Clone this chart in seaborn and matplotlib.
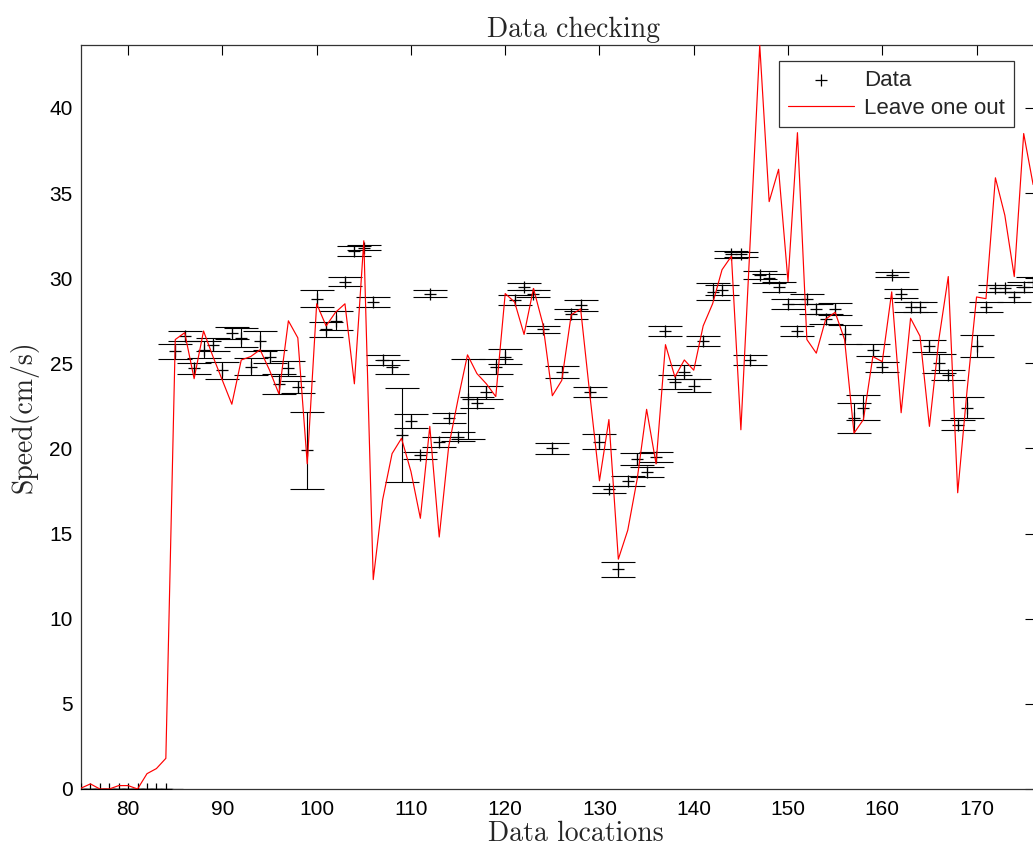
import numpy as np
import matplotlib
matplotlib.use("Agg")
import matplotlib.pyplot as plt
import seaborn as sns

# ---- data ----
data_loc = list(range(75, 177))
data_speed = [0, 0, 0, 0, 0, 0, 0, 0, 0, 0,
              25.7, 26.6, 24.7, 25.8, 26.1, 24.6, 26.8, 26.5, 24.8, 26.3,
              25.4, 23.8, 24.7, 23.6, 19.9, 28.8, 27.0, 27.5, 29.8, 31.6,
              31.8, 28.6, 25.2, 24.8, 20.8, 21.6, 19.6, 29.1, 20.4, 21.8,
              20.7, 22.9, 22.7, 23.3, 24.8, 25.4, 28.7, 29.5, 29.1, 27.0,
              20.0, 24.5, 27.9, 28.4, 23.3, 20.4, 17.6, 12.9, 18.1, 19.4,
              18.6, 19.5, 26.9, 23.9, 24.5, 23.7, 26.3, 29.2, 29.3, 31.4,
              31.4, 25.2, 30.2, 30.0, 29.5, 28.5, 26.9, 28.8, 28.2, 27.6,
              28.2, 26.7, 21.8, 22.4, 25.8, 24.8, 30.2, 29.1, 28.3, 28.3,
              26.0, 25.0, 24.3, 21.4, 22.4, 26.0, 28.3, 29.4, 29.4, 28.9,
              29.5, 29.8]
data_err = [0, 0, 0, 0, 0, 0, 0, 0, 0, 0,
            0.45, 0.3, 0.35, 0.5, 0.4, 0.5, 0.35, 0.55, 0.5, 0.6,
            0.4, 0.6, 0.45, 0.35, 2.25, 0.5, 0.45, 0.55, 0.25, 0.3,
            0.15, 0.3, 0.3, 0.4, 2.75, 0.4, 0.2, 0.2, 0.3, 0.3,
            0.25, 2.35, 0.3, 0.4, 0.45, 0.45, 0.3, 0.2, 0.2, 0.2,
            0.3, 0.35, 0.3, 0.3, 0.3, 0.45, 0.2, 0.45, 0.3, 0.35,
            0.3, 0.3, 0.3, 0.4, 0.4, 0.4, 0.3, 0.5, 0.3, 0.2,
            0.15, 0.3, 0.25, 0.25, 0.3, 0.3, 0.3, 0.3, 0.3, 0.3,
            0.35, 0.55, 0.9, 0.75, 0.35, 0.3, 0.15, 0.25, 0.3, 0.3,
            0.35, 0.55, 0.3, 0.3, 0.6, 0.65, 0.3, 0.2, 0.2, 0.3,
            0.3, 0.3]

loo_loc = list(range(75, 177))
loo_speed = [0.05, 0.3, 0.0, 0.0, 0.2, 0.2, 0.0, 0.9, 1.2, 1.8,
             26.4, 26.8, 24.1, 26.9, 25.4, 24.0, 22.6, 25.2, 25.4, 25.8,
             24.6, 23.2, 27.5, 26.5, 19.1, 28.5, 27.2, 28.0, 28.5, 23.8,
             32.2, 12.3, 17.0, 19.7, 20.6, 18.65, 15.9, 21.3, 14.8, 20.1,
             22.9, 25.5, 24.4, 23.8, 23.05, 29.1, 28.6, 26.7, 29.4, 27.3,
             23.1, 24.0, 27.85, 28.2, 23.05, 18.1, 21.7, 13.5, 15.2, 18.2,
             22.3, 19.1, 26.1, 24.2, 25.2, 24.6, 27.2, 28.5, 30.5, 31.3,
             21.1, 32.3, 43.7, 34.5, 36.4, 29.8, 38.55, 26.4, 25.6, 27.6,
             28.0, 26.4, 20.9, 21.7, 25.4, 25.1, 29.2, 22.1, 27.65, 26.6,
             21.3, 26.4, 30.1, 17.4, 23.45, 28.9, 28.8, 35.9, 33.7, 30.1,
             38.5, 35.5]

x_ticks = [80, 90, 100, 110, 120, 130, 140, 150, 160, 170]
y_ticks = [0, 5, 10, 15, 20, 25, 30, 35, 40]

# ---- style ----
sns.set_style("white")
plt.rcParams["font.family"] = ["Liberation Sans", "DejaVu Sans"]

fig = plt.figure(figsize=(10.33, 8.48), dpi=100)
ax = fig.add_axes([81 / 1033, 59 / 848, 954 / 1033, 744 / 848])

ax.errorbar(data_loc, data_speed, yerr=data_err, fmt="none", ecolor="black",
            elinewidth=0.8, capsize=11.9, capthick=0.8, zorder=2)
sns.scatterplot(x=data_loc, y=data_speed, marker="+", color="black", s=80,
                linewidth=0.9, label="Data", ax=ax, zorder=3)
sns.lineplot(x=loo_loc, y=loo_speed, color="red", linewidth=0.85,
             label="Leave one out", ax=ax, zorder=4)

ax.set_xlim(75, 176.2)
ax.set_ylim(0, 43.7)
ax.set_xticks(x_ticks)
ax.set_yticks(y_ticks)
ax.tick_params(direction="in", length=7, width=0.8, top=True, right=True,
               labelsize=15, colors="black")
ax.tick_params(axis="x", pad=8)
ax.tick_params(axis="y", pad=6)
for s in ax.spines.values():
    s.set_color("#333333")
    s.set_linewidth(0.9)
    s.set_visible(True)

ax.set_title("Data checking", fontfamily="cmr10", fontsize=20,
             x=(574 - 81) / 954, pad=6)
ax.set_xlabel("Data locations", fontfamily="cmr10", fontsize=20)
ax.xaxis.set_label_coords((576 - 81) / 954, -0.042)
ax.set_ylabel("Speed(cm/s)", fontfamily="cmr10", fontsize=20)
ax.yaxis.set_label_coords((38 - 81) / 954, 0.5)

leg = ax.legend(loc="upper right", bbox_to_anchor=(1 - 21 / 954, 1 - 16 / 744),
                borderaxespad=0, fontsize=16, frameon=True, fancybox=False,
                edgecolor="black", handlelength=3.0, handletextpad=0.45,
                borderpad=0.4, labelspacing=0.3, markerscale=1.0)
leg.get_frame().set_linewidth(0.9)

fig.savefig("out.png", dpi=100, facecolor="white")
